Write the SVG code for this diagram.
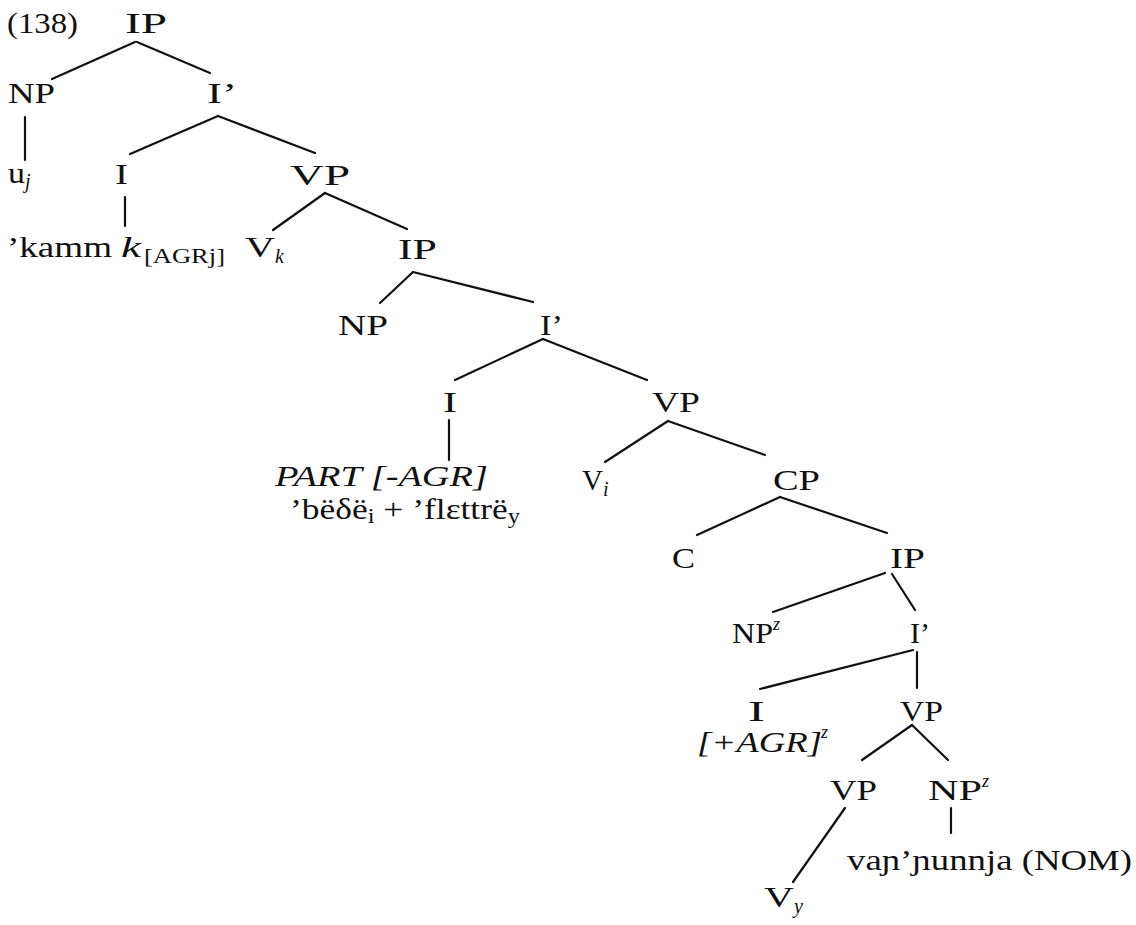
<svg xmlns="http://www.w3.org/2000/svg" width="1136" height="925" viewBox="0 0 1136 925">
  <style>
    .t { font-family: "Liberation Serif", "DejaVu Serif", serif; font-size: 29px; fill: #111; }
    .it { font-style: italic; }
    .sub { font-size: 20px; }
    .sup { font-size: 18px; font-style: italic; }
    .edges line { stroke: #111; stroke-width: 2.2; stroke-linecap: round; }
  </style>
  <rect width="1136" height="925" fill="#fff"/>

  <!-- tree branches -->
  <g id="connectors" class="edges">
    <line x1="135" y1="42" x2="52" y2="79"/>
    <line x1="137" y1="42" x2="210" y2="73"/>
    <line x1="25" y1="117" x2="25" y2="160"/>
    <line x1="218" y1="116" x2="130" y2="154"/>
    <line x1="218" y1="116" x2="315" y2="153"/>
    <line x1="125" y1="197" x2="125" y2="226"/>
    <line x1="325" y1="193" x2="273" y2="230"/>
    <line x1="325" y1="193" x2="407" y2="229"/>
    <line x1="413" y1="272" x2="380" y2="303"/>
    <line x1="413" y1="272" x2="533" y2="302"/>
    <line x1="543" y1="339" x2="455" y2="380"/>
    <line x1="543" y1="339" x2="647" y2="380"/>
    <line x1="449" y1="420" x2="449" y2="460"/>
    <line x1="668" y1="421" x2="605" y2="462"/>
    <line x1="668" y1="421" x2="765" y2="455"/>
    <line x1="780" y1="497" x2="697" y2="535"/>
    <line x1="780" y1="497" x2="887" y2="533"/>
    <line x1="885" y1="573" x2="773" y2="612"/>
    <line x1="892" y1="574" x2="915" y2="610"/>
    <line x1="913" y1="650" x2="760" y2="689"/>
    <line x1="917" y1="652" x2="917" y2="688"/>
    <line x1="912" y1="725" x2="862" y2="760"/>
    <line x1="912" y1="725" x2="948" y2="760"/>
    <line x1="845" y1="808" x2="793" y2="882"/>
    <line x1="951" y1="808" x2="951" y2="833"/>
  </g>

  <!-- example number -->
  <text id="exnum" class="t" x="7" y="33" textLength="71" lengthAdjust="spacingAndGlyphs">(138)</text>

  <!-- main clause -->
  <g id="ip1"><text class="t" x="125" y="33" textLength="42" lengthAdjust="spacingAndGlyphs">IP</text></g>
  <g id="np1"><text class="t" x="8" y="103" textLength="47" lengthAdjust="spacingAndGlyphs">NP</text></g>
  <g id="ibar1"><text class="t" x="207" y="103" textLength="30" lengthAdjust="spacingAndGlyphs">I’</text></g>
  <g id="uj">
    <text class="t" x="8" y="183" textLength="17" lengthAdjust="spacingAndGlyphs">u</text>
    <text class="t it sub" x="25" y="188">j</text>
  </g>
  <g id="i1"><text class="t" x="115" y="184" textLength="13" lengthAdjust="spacingAndGlyphs">I</text></g>
  <g id="vp1"><text class="t" x="290" y="185" textLength="60" lengthAdjust="spacingAndGlyphs">VP</text></g>
  <g id="kamm"><text class="t" x="7" y="257" textLength="105" lengthAdjust="spacingAndGlyphs">’kamm</text></g>
  <g id="kagr">
    <text class="t it" x="121" y="257" textLength="20" lengthAdjust="spacingAndGlyphs">k</text>
    <text class="t sub" x="144" y="263" textLength="81" lengthAdjust="spacingAndGlyphs">[AGRj]</text>
  </g>
  <g id="vk">
    <text class="t" x="245" y="257" textLength="30" lengthAdjust="spacingAndGlyphs">V</text>
    <text class="t it sub" x="275" y="263">k</text>
  </g>

  <!-- second clause -->
  <g id="ip2"><text class="t" x="398" y="259" textLength="39" lengthAdjust="spacingAndGlyphs">IP</text></g>
  <g id="np2"><text class="t" x="338" y="335" textLength="50" lengthAdjust="spacingAndGlyphs">NP</text></g>
  <g id="ibar2"><text class="t" x="540" y="335" textLength="23" lengthAdjust="spacingAndGlyphs">I’</text></g>
  <g id="i2"><text class="t" x="443" y="412" textLength="14" lengthAdjust="spacingAndGlyphs">I</text></g>
  <g id="vp2"><text class="t" x="652" y="412" textLength="48" lengthAdjust="spacingAndGlyphs">VP</text></g>
  <g id="part">
    <text class="t it" x="275" y="486" textLength="213" lengthAdjust="spacingAndGlyphs">PART [-AGR]</text>
    <text class="t" x="290" y="519" textLength="230" lengthAdjust="spacingAndGlyphs">’bëδë<tspan class="sub" dy="4">i</tspan><tspan dy="-4"> + ’flεttrë</tspan><tspan class="sub" dy="4">y</tspan></text>
  </g>
  <g id="vi">
    <text class="t" x="582" y="490" textLength="21" lengthAdjust="spacingAndGlyphs">V</text>
    <text class="t it sub" x="603" y="496">i</text>
  </g>
  <g id="cp"><text class="t" x="773" y="490" textLength="47" lengthAdjust="spacingAndGlyphs">CP</text></g>
  <g id="c"><text class="t" x="672" y="568" textLength="23" lengthAdjust="spacingAndGlyphs">C</text></g>

  <!-- embedded clause -->
  <g id="ip3"><text class="t" x="890" y="568" textLength="35" lengthAdjust="spacingAndGlyphs">IP</text></g>
  <g id="npz1">
    <text class="t" x="732" y="643" textLength="41" lengthAdjust="spacingAndGlyphs">NP</text>
    <text class="t sup" x="773" y="630">z</text>
  </g>
  <g id="ibar3"><text class="t" x="910" y="643" textLength="20" lengthAdjust="spacingAndGlyphs">I’</text></g>
  <g id="i3">
    <text class="t" x="748" y="721" textLength="17" lengthAdjust="spacingAndGlyphs">I</text>
    <text class="t it" x="697" y="752" textLength="125" lengthAdjust="spacingAndGlyphs">[+AGR]</text>
    <text class="t sup" x="821" y="738">z</text>
  </g>
  <g id="vp3"><text class="t" x="900" y="721" textLength="43" lengthAdjust="spacingAndGlyphs">VP</text></g>
  <g id="vp4"><text class="t" x="830" y="800" textLength="47" lengthAdjust="spacingAndGlyphs">VP</text></g>
  <g id="npz2">
    <text class="t" x="928" y="800" textLength="54" lengthAdjust="spacingAndGlyphs">NP</text>
    <text class="t sup" x="982" y="787">z</text>
  </g>
  <g id="vy">
    <text class="t" x="764" y="907" textLength="30" lengthAdjust="spacingAndGlyphs">V</text>
    <text class="t it sub" x="794" y="913">y</text>
  </g>
  <g id="vapnunnja"><text class="t" x="847" y="870" textLength="285" lengthAdjust="spacingAndGlyphs">vaɲ’ɲunnja (NOM)</text></g>
</svg>
